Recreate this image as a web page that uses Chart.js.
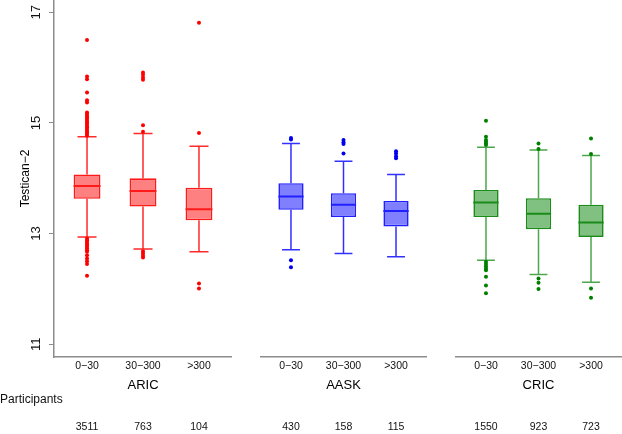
<!DOCTYPE html>
<html><head><meta charset="utf-8">
<script src="https://cdn.jsdelivr.net/npm/chart.js@4/dist/chart.umd.min.js"></script>
<style>
html,body{margin:0;padding:0;background:#fff;}
#wrap{position:relative;width:622px;height:434px;overflow:hidden;background:#fff;}
.panel{position:absolute;top:0;height:434px;}
</style></head><body>
<div id="wrap">
<div class="panel" style="left:0;width:232px"><canvas id="c0"></canvas></div>
<div class="panel" style="left:260px;width:167px"><canvas id="c1"></canvas></div>
<div class="panel" style="left:455px;width:167px"><canvas id="c2"></canvas></div>
</div>
<script>
const groups = ['ARIC', 'AASK', 'CRIC'];
const categories = ['0\u221230', '30\u2212300', '>300'];
const yTicks = [11, 13, 15, 17];
const yTitle = 'Testican\u22122';
const participantsLabel = 'Participants';

const participantsARIC = [3511, 763, 104];
const participantsAASK = [430, 158, 115];
const participantsCRIC = [1550, 923, 723];

const lowerWhiskerARIC = [12.94, 12.72, 12.67];
const q1ARIC = [13.63, 13.49, 13.24];
const medianARIC = [13.86, 13.77, 13.44];
const q3ARIC = [14.07, 14.00, 13.83];
const upperWhiskerARIC = [14.75, 14.81, 14.58];
const outliersARIC = [
  [16.50, 15.84, 15.79, 15.55, 15.41, 15.37, 15.19, 15.16, 15.13, 15.10, 15.07, 15.04, 15.01, 14.98, 14.95, 14.92, 14.89, 14.86, 14.83, 14.80, 14.77,
   12.91, 12.88, 12.85, 12.82, 12.79, 12.76, 12.73, 12.70, 12.67, 12.61, 12.55, 12.50, 12.45, 12.24],
  [15.91, 15.87, 15.82, 15.78, 14.96, 14.84, 12.68, 12.64, 12.60, 12.57],
  [16.81, 14.82, 12.10, 12.01]
];

const lowerWhiskerAASK = [12.71, 12.64, 12.58];
const q1AASK = [13.43, 13.30, 13.13];
const medianAASK = [13.67, 13.52, 13.41];
const q3AASK = [13.91, 13.73, 13.59];
const upperWhiskerAASK = [14.63, 14.31, 14.07];
const outliersAASK = [
  [14.73, 14.70, 12.52, 12.39],
  [14.69, 14.65, 14.62, 14.45],
  [14.49, 14.45, 14.40, 14.36]
];

const lowerWhiskerCRIC = [12.52, 12.26, 12.12];
const q1CRIC = [13.30, 13.08, 12.94];
const medianCRIC = [13.56, 13.36, 13.20];
const q3CRIC = [13.79, 13.64, 13.52];
const upperWhiskerCRIC = [14.56, 14.51, 14.41];
const outliersCRIC = [
  [15.04, 14.75, 14.69, 14.66, 14.63, 14.60, 12.49, 12.45, 12.41, 12.37, 12.34, 12.22, 12.06, 11.92],
  [14.63, 14.53, 12.19, 12.11, 12.00],
  [14.72, 14.44, 12.01, 11.84]
];

const FONT = '"Liberation Sans", Arial, Helvetica, sans-serif';
Chart.defaults.font.family = FONT;

const panels = [
  {name: groups[0], n: participantsARIC, lo: lowerWhiskerARIC, q1: q1ARIC, med: medianARIC, q3: q3ARIC, hi: upperWhiskerARIC, out: outliersARIC,
   stroke: '#ff1a1a', whisker: '#ff2a2a', fill: '#ff8080', point: '#ff0000'},
  {name: groups[1], n: participantsAASK, lo: lowerWhiskerAASK, q1: q1AASK, med: medianAASK, q3: q3AASK, hi: upperWhiskerAASK, out: outliersAASK,
   stroke: '#2020ff', whisker: '#3030ff', fill: '#8080ff', point: '#0000ee'},
  {name: groups[2], n: participantsCRIC, lo: lowerWhiskerCRIC, q1: q1CRIC, med: medianCRIC, q3: q3CRIC, hi: upperWhiskerCRIC, out: outliersCRIC,
   stroke: '#1a8c1a', whisker: '#4ca64c', fill: '#80c080', point: '#008000'}
];

const BOX = 0.48, CAP = 0.17;

const textPlugin = {
  id: 'counts',
  afterDraw(chart, args, opts) {
    const ctx = chart.ctx, xs = chart.scales.x;
    ctx.save();
    ctx.fillStyle = '#111';
    ctx.textBaseline = 'middle';
    ctx.textAlign = 'center';
    ctx.font = '10.5px ' + FONT;
    opts.counts.forEach((n, i) => ctx.fillText(String(n), xs.getPixelForValue(i), chart.height - 7));
    if (opts.label) {
      ctx.font = '12px ' + FONT;
      ctx.textAlign = 'left';
      ctx.fillText(opts.label, 0, chart.height - 34);
    }
    ctx.restore();
  }
};

panels.forEach((p, g) => {
  const whiskers = [], caps = [], medians = [], pts = [];
  categories.forEach((c, i) => {
    whiskers.push({x: i, y: p.lo[i]}, {x: i, y: p.q1[i]}, {x: i, y: null}, {x: i, y: p.q3[i]}, {x: i, y: p.hi[i]}, {x: i, y: null});
    caps.push({x: i - CAP, y: p.lo[i]}, {x: i + CAP, y: p.lo[i]}, {x: i, y: null}, {x: i - CAP, y: p.hi[i]}, {x: i + CAP, y: p.hi[i]}, {x: i, y: null});
    medians.push({x: i - BOX / 2, y: p.med[i]}, {x: i + BOX / 2, y: p.med[i]}, {x: i, y: null});
    p.out[i].forEach(v => pts.push({x: i, y: v}));
  });
  const first = g === 0;
  new Chart(document.getElementById('c' + g), {
    type: 'bar',
    data: {
      datasets: [
        {type: 'bar', data: categories.map((c, i) => ({x: i, y: [p.q1[i], p.q3[i]]})),
         backgroundColor: p.fill, borderColor: p.stroke, borderWidth: 1.6, borderSkipped: false,
         categoryPercentage: 1, barPercentage: BOX, order: 3},
        {type: 'line', data: whiskers, borderColor: p.whisker, borderWidth: 1.5, pointRadius: 0, spanGaps: false, order: 4},
        {type: 'line', data: caps, borderColor: p.whisker, borderWidth: 1.5, pointRadius: 0, spanGaps: false, order: 4},
        {type: 'line', data: medians, borderColor: p.stroke, borderWidth: 2, pointRadius: 0, spanGaps: false, order: 1},
        {type: 'scatter', data: pts, pointRadius: 2, pointBackgroundColor: p.point, pointBorderWidth: 0, borderColor: p.point, order: 0}
      ]
    },
    options: {
      responsive: true, maintainAspectRatio: false, animation: false,
      layout: {autoPadding: false, padding: {top: 0, left: 0, right: 0, bottom: 41}},
      plugins: {legend: {display: false}, tooltip: {enabled: false},
        counts: {counts: p.n, label: first ? participantsLabel : null}},
      scales: {
        x: {type: 'linear', min: -0.59, max: 2.59, offset: false,
          afterBuildTicks: s => { s.ticks = categories.map((c, i) => ({value: i})); },
          afterFit: s => { s.height = 36; s.paddingLeft = 0; s.paddingRight = 0; },
          grid: {display: false, drawTicks: false},
          border: {display: true, color: '#8c8c8c', width: 1.5},
          ticks: {padding: 3, font: {size: 10.5}, color: '#111', maxRotation: 0, minRotation: 0, autoSkip: false,
            callback: v => categories[v] !== undefined ? categories[v] : ''},
          title: {display: true, text: p.name, font: {size: 13}, color: '#000', padding: {top: 0, bottom: 0}}
        },
        y: {type: 'linear', min: 10.77, max: 17.222, beginAtZero: false, display: first,
          afterBuildTicks: s => { s.ticks = yTicks.map(v => ({value: v})); },
          afterFit: s => { s.width = first ? 54 : 0; s.paddingTop = 0; s.paddingBottom = 0; },
          grid: {drawOnChartArea: false, drawTicks: true, tickLength: 5, color: '#8c8c8c', lineWidth: 1},
          border: {display: true, color: '#8c8c8c', width: 1.5},
          ticks: {minRotation: 90, maxRotation: 90, crossAlign: 'center', padding: 5, font: {size: 13}, color: '#111'},
          title: {display: true, text: yTitle, font: {size: 12}, color: '#000', padding: {top: 18, bottom: 0}}
        }
      }
    },
    plugins: [textPlugin]
  });
});
</script>
</body></html>
